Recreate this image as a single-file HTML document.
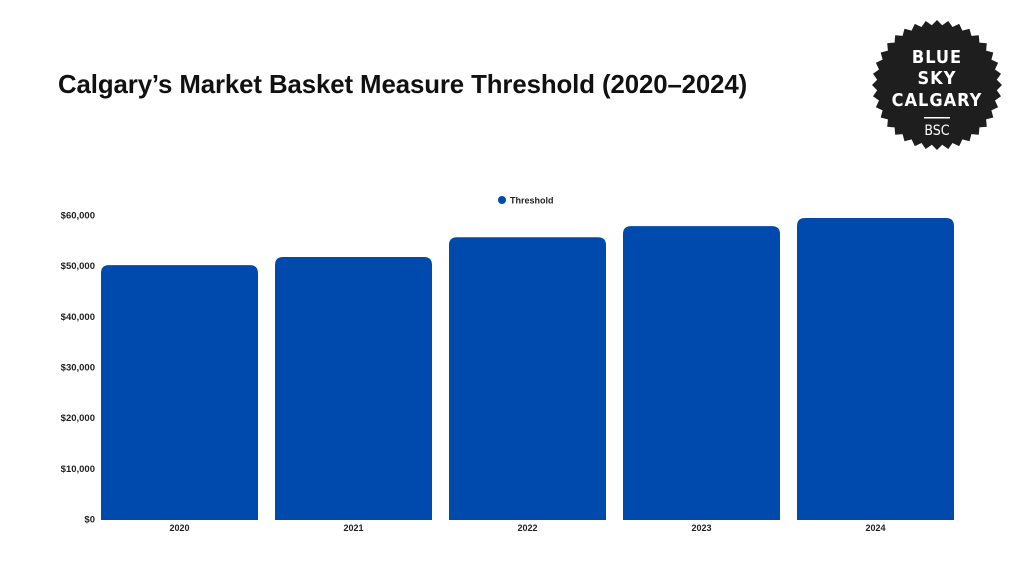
<!DOCTYPE html>
<html><head><meta charset="utf-8">
<style>
body{margin:0;background:#fff;width:1024px;height:576px;overflow:hidden;font-family:"Liberation Sans",sans-serif;}
#title{position:absolute;left:58px;top:71px;font-size:25.8px;font-weight:bold;color:#111;letter-spacing:-0.1px;margin:0;}
svg{position:absolute;left:0;top:0;}
</style></head>
<body>
<h1 id="title">Calgary’s Market Basket Measure Threshold (2020–2024)</h1>
<svg id="chart" width="1024" height="576"></svg>
<script>
const categories=["2020","2021","2022","2023","2024"];
const thresholdValues=[50100,51700,55600,57800,59400];
const yTicks=[0,10000,20000,30000,40000,50000,60000];
const yTickLabels=["$0","$10,000","$20,000","$30,000","$40,000","$50,000","$60,000"];
const NS="http://www.w3.org/2000/svg";
const svg=document.getElementById('chart');
const y0=519,y1=215,yMax=60000;
const x0=92,step=174,barW=157,pad=9;
function yScale(v){return y0-(v/yMax)*(y0-y1);}
function xScale(i){return x0+pad+i*step;}
function mk(tag,attrs,parent){const e=document.createElementNS(NS,tag);for(const k in attrs)e.setAttribute(k,attrs[k]);(parent||svg).appendChild(e);return e;}
yTicks.forEach((t,i)=>{
  const tx=mk('text',{x:95,y:yScale(t)+3.5,'text-anchor':'end','font-size':'9.5','font-weight':'bold',fill:'#222','font-family':'Liberation Sans, sans-serif'});
  
  
  tx.textContent=yTickLabels[i];
});
categories.forEach((c,i)=>{
  const x=xScale(i),y=yScale(thresholdValues[i]),r=8,yb=y0+1;
  const p=mk('path',{d:`M${x},${yb} L${x},${y+r} Q${x},${y} ${x+r},${y} L${x+barW-r},${y} Q${x+barW},${y} ${x+barW},${y+r} L${x+barW},${yb} Z`,fill:'#004aad'});
  
  
  const t=mk('text',{x:x+barW/2,y:531,'text-anchor':'middle','font-size':'9','font-weight':'bold',fill:'#222','font-family':'Liberation Sans, sans-serif'});
  
  
  t.textContent=c;
});
const lg=mk('g',{});


mk('circle',{cx:502,cy:200,r:4,fill:'#004aad'},lg);
const lt=mk('text',{x:510,y:203.5,'font-size':'9','font-weight':'bold',fill:'#222','font-family':'Liberation Sans, sans-serif'},lg);
lt.textContent='Threshold';
const bg=mk('g',{});


let pts=[];const n=36,cx=937,cy=85,ro=65,ri=60;
for(let k=0;k<n*2;k++){const a=Math.PI*k/n;const r=k%2?ri:ro;pts.push((cx+r*Math.cos(a)).toFixed(1)+','+(cy+r*Math.sin(a)).toFixed(1));}
mk('polygon',{points:pts.join(' '),fill:'#1e1e1e'},bg);
[["BLUE",63],["SKY",84],["CALGARY",106]].forEach(([s,yy])=>{const t=mk('text',{x:cx,y:yy,'text-anchor':'middle','font-size':'18','font-weight':'bold',fill:'#fff','font-family':'DejaVu Sans Condensed, Liberation Sans, sans-serif','letter-spacing':'1'},bg);t.textContent=s;});
mk('rect',{x:924,y:117,width:26,height:1.5,fill:'#fff'},bg);
const bsc=mk('text',{x:cx,y:135,'text-anchor':'middle','font-size':'14',fill:'#fff','font-family':'DejaVu Sans Condensed, Liberation Sans, sans-serif'},bg);bsc.textContent='BSC';
</script>
</body></html>
